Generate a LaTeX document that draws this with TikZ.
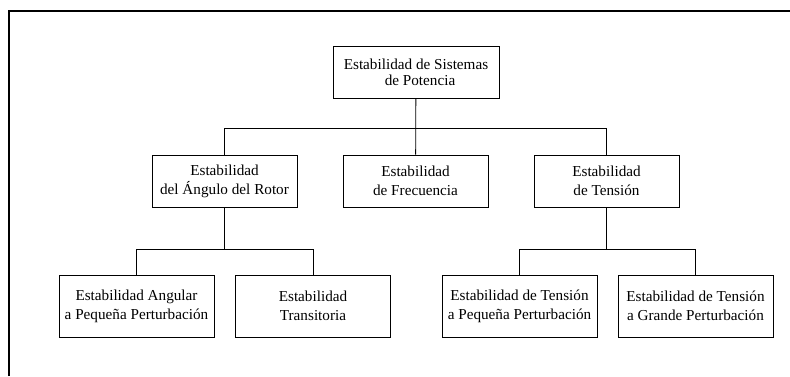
\documentclass[tikz,border=0pt]{standalone}
\usepackage{fontspec}
\setmainfont{Liberation Serif}
\tikzset{
  caja/.style={draw, line width=0.8pt, align=center, inner sep=0pt,
    font=\fontsize{15.2}{19}\selectfont},
  nivel2/.style={caja, minimum width=145pt, minimum height=52pt},
  nivel3/.style={caja, minimum width=155pt, minimum height=62pt},
  linea/.style={line width=0.8pt}
}
\begin{document}
\begin{tikzpicture}[x=1pt,y=-1pt]
    \useasboundingbox (0,0) rectangle (790,376);
    \draw [line width=2pt] (9,376) -- (9,11) -- (790,11);
    % nivel 1
    \node [caja, minimum width=166pt, minimum height=52pt,
        font=\fontsize{15.2}{16}\selectfont] (sistema) at (416,72)
        {Estabilidad de Sistemas\\\hspace*{8pt}de Potencia};
    % nivel 2
    \node [nivel2] (angulo) at (224.5,181) {Estabilidad\\del Ángulo del Rotor};
    \node [nivel2] (frecuencia) at (415.5,181) {Estabilidad\\de Frecuencia};
    \node [nivel2] (tension) at (606.5,181) {Estabilidad\\de Tensión};
    % nivel 3
    \node [nivel3] (angpeq) at (136.5,306) {Estabilidad Angular\\a Pequeña Perturbación};
    \node [nivel3] (transitoria) at (313,306) {Estabilidad\\Transitoria};
    \node [nivel3] (tenpeq) at (519.5,306) {Estabilidad de Tensión\\a Pequeña Perturbación};
    \node [nivel3] (tengra) at (695.5,306) {Estabilidad de Tensión\\a Grande Perturbación};
    % conexiones
    \draw [linea] (sistema) -- (frecuencia);
    \draw [linea] (angulo.north) -- ++(0,-26) -| (tension.north);
    \draw [linea] (angulo.south) -- ++(0,42) coordinate (ba);
    \draw [linea] (angpeq.north) |- (ba) -| (transitoria.north);
    \draw [linea] (tension.south) -- ++(0,42) coordinate (bt);
    \draw [linea] (tenpeq.north) |- (bt) -| (tengra.north);
\end{tikzpicture}
\end{document}
